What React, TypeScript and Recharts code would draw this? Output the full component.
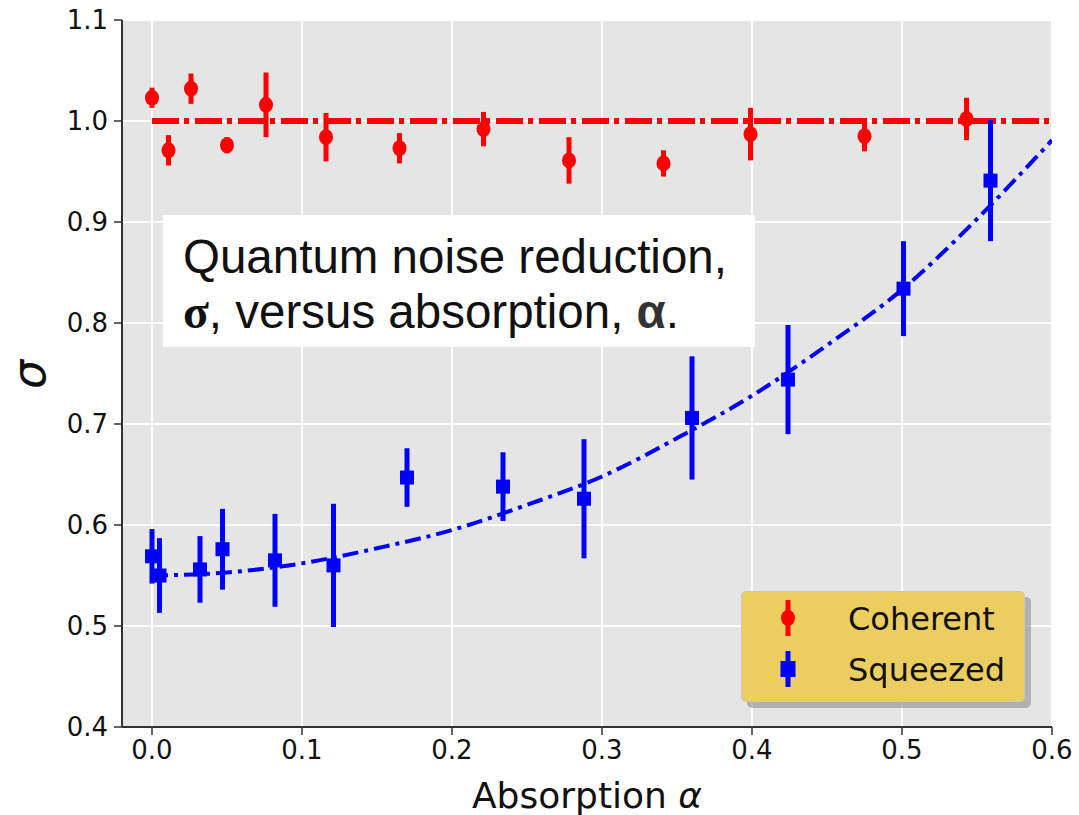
import React from 'react';
import {
  ComposedChart, Scatter, Line, XAxis, YAxis, CartesianGrid, ErrorBar, Legend,
} from 'recharts';

// ---- data ----
const coherentAlpha = [0.0, 0.011, 0.026, 0.05, 0.076, 0.116, 0.165, 0.221, 0.278, 0.341, 0.399, 0.475, 0.543];
const coherentSigma = [1.023, 0.971, 1.032, 0.976, 1.016, 0.984, 0.973, 0.992, 0.961, 0.958, 0.987, 0.985, 1.002];
const coherentErr = [0.010, 0.015, 0.015, 0.008, 0.032, 0.024, 0.015, 0.017, 0.023, 0.013, 0.026, 0.015, 0.021];

const squeezedAlpha = [0.0, 0.005, 0.032, 0.047, 0.082, 0.121, 0.170, 0.234, 0.288, 0.360, 0.424, 0.501, 0.559];
const squeezedSigma = [0.569, 0.550, 0.556, 0.576, 0.565, 0.560, 0.647, 0.638, 0.626, 0.706, 0.744, 0.834, 0.941];
const squeezedErr = [0.027, 0.037, 0.033, 0.040, 0.046, 0.061, 0.029, 0.034, 0.059, 0.061, 0.054, 0.047, 0.060];

const fitAlpha = [0, 0.05, 0.1, 0.15, 0.2, 0.25, 0.3, 0.35, 0.4, 0.45, 0.5, 0.55, 0.6];
const fitSigma = [0.550, 0.553, 0.562, 0.577, 0.595, 0.620, 0.648, 0.686, 0.728, 0.778, 0.833, 0.903, 0.981];

const refAlpha = [0, 0.6];
const refSigma = [1.0, 1.0];

const xTicks = [0, 0.1, 0.2, 0.3, 0.4, 0.5, 0.6];
const yTicks = [0.4, 0.5, 0.6, 0.7, 0.8, 0.9, 1.0, 1.1];

const seriesNames = ['Coherent', 'Squeezed'];

// ---- tables built from the arrays ----
const coherentData = coherentAlpha.map((a, i) => ({ a, s: coherentSigma[i], e: coherentErr[i] }));
const squeezedData = squeezedAlpha.map((a, i) => ({ a, s: squeezedSigma[i], e: squeezedErr[i] }));
const fitData = fitAlpha.map((a, i) => ({ a, s: fitSigma[i] }));
const refData = refAlpha.map((a, i) => ({ a, s: refSigma[i] }));

const RED = '#ff0000';
const BLUE = '#0000ff';
const TICK_FONT = { fontFamily: 'DejaVu Sans', fontSize: 26, fill: '#111' };

const RedDot = (p: any) => <ellipse cx={p.cx} cy={p.cy} rx={7} ry={8} fill={RED} />;
const BlueSquare = (p: any) => <rect x={p.cx - 7} y={p.cy - 7} width={14} height={14} fill={BLUE} />;

const LegendBox = () => (
  <div style={{ position: 'relative', width: 284, height: 111 }}>
    <div style={{
      position: 'absolute', left: 6, top: 6, width: 284, height: 111,
      background: '#9a9a9a', borderRadius: 5, opacity: 0.7,
    }} />
    <div style={{
      position: 'absolute', left: 0, top: 0, width: 282, height: 109,
      background: '#ecce60', border: '1.5px solid #c8c8c8', borderRadius: 5,
    }}>
      <svg width={282} height={109} style={{ position: 'absolute', left: 0, top: 0 }}>
        <rect x={43.5} y={8} width={5} height={36} fill={RED} />
        <ellipse cx={46} cy={26} rx={7} ry={8} fill={RED} />
        <rect x={43.5} y={59} width={5} height={36} fill={BLUE} />
        <rect x={38.5} y={69} width={15} height={16} fill={BLUE} />
        <text x={106} y={37.5} fontFamily="DejaVu Sans" fontSize={32} fill="#111">{seriesNames[0]}</text>
        <text x={106} y={88.5} fontFamily="DejaVu Sans" fontSize={32} fill="#111">{seriesNames[1]}</text>
      </svg>
    </div>
  </div>
);

const YLabel = (props: any) => {
  const vb = props.viewBox || { x: 0, y: 20, width: 122, height: 707 };
  const cx = 45;
  const cy = vb.y + vb.height / 2 + 1;
  return (
    <text x={cx} y={cy} transform={`rotate(-90, ${cx}, ${cy})`} textAnchor="middle"
      fontFamily="DejaVu Sans" fontStyle="italic" fontSize={46} fill="#111">σ</text>
  );
};

const XLabel = (props: any) => {
  const vb = props.viewBox || { x: 122, y: 727, width: 930, height: 88 };
  return (
    <text x={vb.x + vb.width / 2} y={vb.y + 81} textAnchor="middle"
      fontFamily="DejaVu Sans" fontSize={36} fill="#111">
      Absorption <tspan fontStyle="italic">α</tspan>
    </text>
  );
};

export default function App() {
  return (
    <div style={{ position: 'absolute', left: 0, top: 0, width: 1079, height: 815, background: '#fff' }}>
      <ComposedChart width={1079} height={815} margin={{ top: 20, right: 27, bottom: 0, left: 0 }}>
        <CartesianGrid fill="#e5e5e5" stroke="#ffffff" strokeWidth={2} />
        <XAxis type="number" dataKey="a" domain={[-0.02, 0.6]} ticks={xTicks} allowDataOverflow
          tickFormatter={(v: number) => v.toFixed(1)} height={88} tick={TICK_FONT}
          axisLine={{ stroke: '#333', strokeWidth: 2 }} tickLine={{ stroke: '#333', strokeWidth: 1.5 }}
          tickSize={8} tickMargin={6} label={<XLabel />} />
        <YAxis type="number" dataKey="s" domain={[0.4, 1.1]} ticks={yTicks} allowDataOverflow
          tickFormatter={(v: number) => v.toFixed(1)} width={122} tick={TICK_FONT}
          axisLine={{ stroke: '#333', strokeWidth: 2 }} tickLine={{ stroke: '#333', strokeWidth: 1.5 }}
          tickSize={8} tickMargin={6} label={<YLabel />} />
        <Line data={refData} dataKey="s" type="linear" stroke={RED} strokeWidth={6}
          strokeDasharray="27 5 5 6" dot={false} activeDot={false} legendType="none" isAnimationActive={false} />
        <Line data={fitData} dataKey="s" type="monotone" stroke={BLUE} strokeWidth={4}
          strokeDasharray="16 6 4 6" dot={false} activeDot={false} legendType="none" isAnimationActive={false} />
        <Scatter name={seriesNames[0]} data={coherentData} dataKey="s" fill={RED} shape={RedDot} isAnimationActive={false}>
          <ErrorBar dataKey="e" direction="y" width={0} stroke={RED} strokeWidth={5} isAnimationActive={false} />
        </Scatter>
        <Scatter name={seriesNames[1]} data={squeezedData} dataKey="s" fill={BLUE} shape={BlueSquare} isAnimationActive={false}>
          <ErrorBar dataKey="e" direction="y" width={0} stroke={BLUE} strokeWidth={5} isAnimationActive={false} />
        </Scatter>
        <Legend layout="horizontal" verticalAlign="middle" align="center" content={<LegendBox />}
          wrapperStyle={{ position: 'absolute', left: 741, top: 591, width: 292, height: 119 }} />
      </ComposedChart>
      <svg width={1079} height={815} style={{ position: 'absolute', left: 0, top: 0, pointerEvents: 'none' }}>
        <rect x={163} y={215} width={592} height={132} fill="#ffffff" />
        <text x={183} y={273} fontFamily="Liberation Sans" fontSize={47.5} fill="#111">Quantum noise reduction,</text>
        <text x={183} y={328} fontFamily="Liberation Sans" fontSize={47.5} fill="#111">
          <tspan fontFamily="Liberation Serif" fontWeight="bold">σ</tspan>
          <tspan>, versus absorption, </tspan>
          <tspan fontWeight="bold" fill="#333">α</tspan>
          <tspan>.</tspan>
        </text>
      </svg>
    </div>
  );
}
